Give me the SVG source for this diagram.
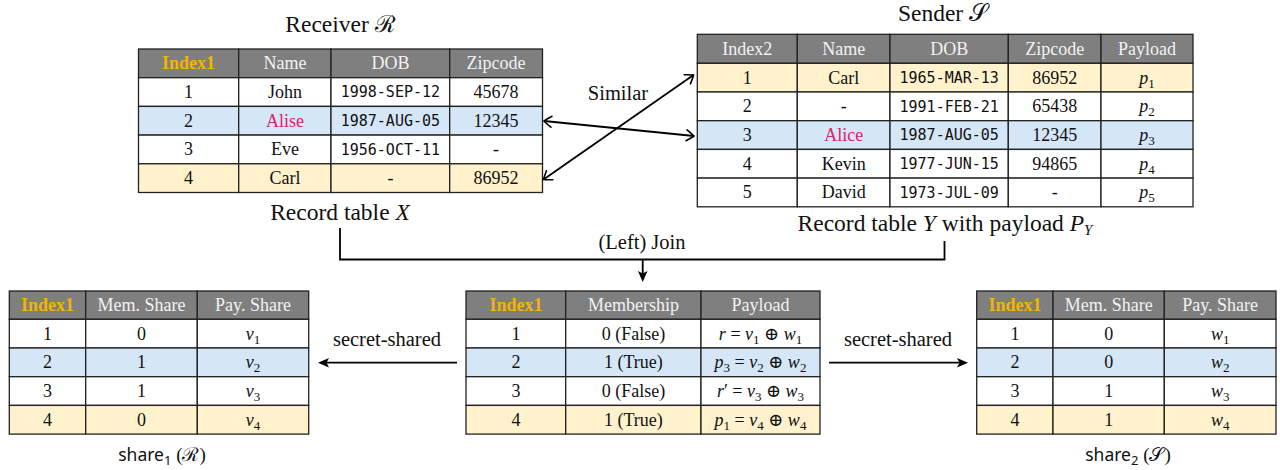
<svg xmlns="http://www.w3.org/2000/svg" width="1280" height="470" viewBox="0 0 1280 470">
  <style>
    text { font-family: "Liberation Serif", "DejaVu Serif", serif; fill: #111; }
    .t { font-size: 18px; text-anchor: middle; }
    .mono { font-family: "DejaVu Sans Mono", "Liberation Mono", monospace; font-size: 15px; text-anchor: middle; }
    .hd { font-size: 18px; text-anchor: middle; fill: #f2f2f2; }
    .key { font-weight: bold; fill: #f4b400; }
    .pink { fill: #d6266a; }
    .cap { font-size: 23.5px; text-anchor: middle; }
    .lbl { font-size: 20.5px; text-anchor: middle; }
    .sf { font-family: "Noto Sans", "Open Sans", sans-serif; }
    .it { font-style: italic; }
    .sub { font-size: 13px; }
    .c { stroke: #222; stroke-width: 1.3; }
    .h { fill: #7f7f7f; }
    .w { fill: #ffffff; }
    .b { fill: #d5e6f7; }
    .y { fill: #fff2cc; }
    .ln { fill: none; stroke: #000; stroke-width: 1.8; }
  </style>
  <defs>
    <marker id="barb" viewBox="-12 -8 14 16" refX="0" refY="0" markerWidth="14" markerHeight="16" markerUnits="userSpaceOnUse" orient="auto-start-reverse">
      <path d="M-7.5,-5.5 Q-2,-1.8 0,0 Q-2,1.8 -7.5,5.5" fill="none" stroke="#000" stroke-width="1.6" stroke-linecap="round"/>
    </marker>
    <marker id="tri" viewBox="-14 -6 15 12" refX="-5" refY="0" markerWidth="15" markerHeight="12" markerUnits="userSpaceOnUse" orient="auto">
      <path d="M0,0 L-11,-4.8 L-8.5,0 L-11,4.8 Z" fill="#000"/>
    </marker>
  </defs>

  <!-- Receiver record table X -->
  <g id="receiver">
    <text class="cap" x="340" y="32">Receiver ℛ</text>
    <rect class="c h" x="138.5" y="49" width="100.2" height="28.7"/>
    <rect class="c h" x="238.7" y="49" width="92.3" height="28.7"/>
    <rect class="c h" x="331" y="49" width="118.7" height="28.7"/>
    <rect class="c h" x="449.7" y="49" width="92.8" height="28.7"/>
    <text class="hd key" x="188.6" y="69.3">Index1</text>
    <text class="hd" x="284.9" y="69.3">Name</text>
    <text class="hd" x="390.4" y="69.3">DOB</text>
    <text class="hd" x="496.1" y="69.3">Zipcode</text>

    <rect class="c w" x="138.5" y="77.7" width="100.2" height="28.7"/>
    <rect class="c w" x="238.7" y="77.7" width="92.3" height="28.7"/>
    <rect class="c w" x="331" y="77.7" width="118.7" height="28.7"/>
    <rect class="c w" x="449.7" y="77.7" width="92.8" height="28.7"/>
    <text class="t" x="188.6" y="98">1</text>
    <text class="t" x="284.9" y="98">John</text>
    <text class="mono" x="390.4" y="97.3">1998-SEP-12</text>
    <text class="t" x="496.1" y="98">45678</text>

    <rect class="c b" x="138.5" y="106.4" width="100.2" height="28.7"/>
    <rect class="c b" x="238.7" y="106.4" width="92.3" height="28.7"/>
    <rect class="c b" x="331" y="106.4" width="118.7" height="28.7"/>
    <rect class="c b" x="449.7" y="106.4" width="92.8" height="28.7"/>
    <text class="t" x="188.6" y="126.7">2</text>
    <text class="t pink" x="284.9" y="126.7">Alise</text>
    <text class="mono" x="390.4" y="126">1987-AUG-05</text>
    <text class="t" x="496.1" y="126.7">12345</text>

    <rect class="c w" x="138.5" y="135.1" width="100.2" height="28.7"/>
    <rect class="c w" x="238.7" y="135.1" width="92.3" height="28.7"/>
    <rect class="c w" x="331" y="135.1" width="118.7" height="28.7"/>
    <rect class="c w" x="449.7" y="135.1" width="92.8" height="28.7"/>
    <text class="t" x="188.6" y="155.4">3</text>
    <text class="t" x="284.9" y="155.4">Eve</text>
    <text class="mono" x="390.4" y="154.7">1956-OCT-11</text>
    <text class="t" x="496.1" y="155.4">-</text>

    <rect class="c y" x="138.5" y="163.8" width="100.2" height="28.7"/>
    <rect class="c y" x="238.7" y="163.8" width="92.3" height="28.7"/>
    <rect class="c y" x="331" y="163.8" width="118.7" height="28.7"/>
    <rect class="c y" x="449.7" y="163.8" width="92.8" height="28.7"/>
    <text class="t" x="188.6" y="184.1">4</text>
    <text class="t" x="284.9" y="184.1">Carl</text>
    <text class="t" x="390.4" y="184.1">-</text>
    <text class="t" x="496.1" y="184.1">86952</text>

    <text class="cap" x="340" y="220">Record table <tspan class="it">X</tspan></text>
  </g>

  <!-- Sender record table Y with payload -->
  <g id="sender">
    <text class="cap" x="943" y="21">Sender 𝒮</text>
    <rect class="c h" x="697.3" y="34.3" width="100" height="29"/>
    <rect class="c h" x="797.3" y="34.3" width="92.7" height="29"/>
    <rect class="c h" x="890" y="34.3" width="118.3" height="29"/>
    <rect class="c h" x="1008.3" y="34.3" width="92.7" height="29"/>
    <rect class="c h" x="1101" y="34.3" width="92" height="29"/>
    <text class="hd" x="747.3" y="54.8">Index2</text>
    <text class="hd" x="843.7" y="54.8">Name</text>
    <text class="hd" x="949.2" y="54.8">DOB</text>
    <text class="hd" x="1054.7" y="54.8">Zipcode</text>
    <text class="hd" x="1147" y="54.8">Payload</text>

    <rect class="c y" x="697.3" y="63.3" width="100" height="28.7"/>
    <rect class="c y" x="797.3" y="63.3" width="92.7" height="28.7"/>
    <rect class="c y" x="890" y="63.3" width="118.3" height="28.7"/>
    <rect class="c y" x="1008.3" y="63.3" width="92.7" height="28.7"/>
    <rect class="c y" x="1101" y="63.3" width="92" height="28.7"/>
    <text class="t" x="747.3" y="83.6">1</text>
    <text class="t" x="843.7" y="83.6">Carl</text>
    <text class="mono" x="949.2" y="82.9">1965-MAR-13</text>
    <text class="t" x="1054.7" y="83.6">86952</text>
    <text class="t" x="1147" y="83.6"><tspan class="it">p</tspan><tspan class="sub" dy="4">1</tspan></text>

    <rect class="c w" x="697.3" y="92" width="100" height="28.7"/>
    <rect class="c w" x="797.3" y="92" width="92.7" height="28.7"/>
    <rect class="c w" x="890" y="92" width="118.3" height="28.7"/>
    <rect class="c w" x="1008.3" y="92" width="92.7" height="28.7"/>
    <rect class="c w" x="1101" y="92" width="92" height="28.7"/>
    <text class="t" x="747.3" y="112.3">2</text>
    <text class="t" x="843.7" y="112.3">-</text>
    <text class="mono" x="949.2" y="111.6">1991-FEB-21</text>
    <text class="t" x="1054.7" y="112.3">65438</text>
    <text class="t" x="1147" y="112.3"><tspan class="it">p</tspan><tspan class="sub" dy="4">2</tspan></text>

    <rect class="c b" x="697.3" y="120.7" width="100" height="28.7"/>
    <rect class="c b" x="797.3" y="120.7" width="92.7" height="28.7"/>
    <rect class="c b" x="890" y="120.7" width="118.3" height="28.7"/>
    <rect class="c b" x="1008.3" y="120.7" width="92.7" height="28.7"/>
    <rect class="c b" x="1101" y="120.7" width="92" height="28.7"/>
    <text class="t" x="747.3" y="141">3</text>
    <text class="t pink" x="843.7" y="141">Alice</text>
    <text class="mono" x="949.2" y="140.3">1987-AUG-05</text>
    <text class="t" x="1054.7" y="141">12345</text>
    <text class="t" x="1147" y="141"><tspan class="it">p</tspan><tspan class="sub" dy="4">3</tspan></text>

    <rect class="c w" x="697.3" y="149.4" width="100" height="28.7"/>
    <rect class="c w" x="797.3" y="149.4" width="92.7" height="28.7"/>
    <rect class="c w" x="890" y="149.4" width="118.3" height="28.7"/>
    <rect class="c w" x="1008.3" y="149.4" width="92.7" height="28.7"/>
    <rect class="c w" x="1101" y="149.4" width="92" height="28.7"/>
    <text class="t" x="747.3" y="169.7">4</text>
    <text class="t" x="843.7" y="169.7">Kevin</text>
    <text class="mono" x="949.2" y="169">1977-JUN-15</text>
    <text class="t" x="1054.7" y="169.7">94865</text>
    <text class="t" x="1147" y="169.7"><tspan class="it">p</tspan><tspan class="sub" dy="4">4</tspan></text>

    <rect class="c w" x="697.3" y="178.1" width="100" height="28.7"/>
    <rect class="c w" x="797.3" y="178.1" width="92.7" height="28.7"/>
    <rect class="c w" x="890" y="178.1" width="118.3" height="28.7"/>
    <rect class="c w" x="1008.3" y="178.1" width="92.7" height="28.7"/>
    <rect class="c w" x="1101" y="178.1" width="92" height="28.7"/>
    <text class="t" x="747.3" y="198.4">5</text>
    <text class="t" x="843.7" y="198.4">David</text>
    <text class="mono" x="949.2" y="197.7">1973-JUL-09</text>
    <text class="t" x="1054.7" y="198.4">-</text>
    <text class="t" x="1147" y="198.4"><tspan class="it">p</tspan><tspan class="sub" dy="4">5</tspan></text>

    <text class="cap" x="945" y="231">Record table <tspan class="it">Y</tspan> with payload <tspan class="it">P</tspan><tspan class="it" style="font-size:15px" dy="4">Y</tspan></text>
  </g>

  <!-- Share held by the receiver -->
  <g id="share1">
    <rect class="c h" x="9.3" y="291" width="76.4" height="28.3"/>
    <rect class="c h" x="85.7" y="291" width="111.6" height="28.3"/>
    <rect class="c h" x="197.3" y="291" width="111.4" height="28.3"/>
    <text class="hd key" x="47.5" y="311.3">Index1</text>
    <text class="hd" x="141.5" y="311.3">Mem. Share</text>
    <text class="hd" x="253" y="311.3">Pay. Share</text>

    <rect class="c w" x="9.3" y="319.3" width="76.4" height="28.7"/>
    <rect class="c w" x="85.7" y="319.3" width="111.6" height="28.7"/>
    <rect class="c w" x="197.3" y="319.3" width="111.4" height="28.7"/>
    <text class="t" x="47.5" y="339.6">1</text>
    <text class="t" x="141.5" y="339.6">0</text>
    <text class="t" x="253" y="339.6"><tspan class="it">v</tspan><tspan class="sub" dy="4">1</tspan></text>

    <rect class="c b" x="9.3" y="348" width="76.4" height="28.7"/>
    <rect class="c b" x="85.7" y="348" width="111.6" height="28.7"/>
    <rect class="c b" x="197.3" y="348" width="111.4" height="28.7"/>
    <text class="t" x="47.5" y="368.3">2</text>
    <text class="t" x="141.5" y="368.3">1</text>
    <text class="t" x="253" y="368.3"><tspan class="it">v</tspan><tspan class="sub" dy="4">2</tspan></text>

    <rect class="c w" x="9.3" y="376.7" width="76.4" height="28.7"/>
    <rect class="c w" x="85.7" y="376.7" width="111.6" height="28.7"/>
    <rect class="c w" x="197.3" y="376.7" width="111.4" height="28.7"/>
    <text class="t" x="47.5" y="397">3</text>
    <text class="t" x="141.5" y="397">1</text>
    <text class="t" x="253" y="397"><tspan class="it">v</tspan><tspan class="sub" dy="4">3</tspan></text>

    <rect class="c y" x="9.3" y="405.4" width="76.4" height="28.7"/>
    <rect class="c y" x="85.7" y="405.4" width="111.6" height="28.7"/>
    <rect class="c y" x="197.3" y="405.4" width="111.4" height="28.7"/>
    <text class="t" x="47.5" y="425.7">4</text>
    <text class="t" x="141.5" y="425.7">0</text>
    <text class="t" x="253" y="425.7"><tspan class="it">v</tspan><tspan class="sub" dy="4">4</tspan></text>

    <text class="t" x="162" y="461" style="font-size:19px"><tspan class="sf" style="font-size:17.5px">share</tspan><tspan class="sf sub" dy="4">1</tspan><tspan dy="-4"> (ℛ)</tspan></text>
  </g>

  <!-- Joined membership / payload table -->
  <g id="joined">
    <rect class="c h" x="466" y="291" width="99.7" height="28.3"/>
    <rect class="c h" x="565.7" y="291" width="135.3" height="28.3"/>
    <rect class="c h" x="701" y="291" width="119" height="28.3"/>
    <text class="hd key" x="515.9" y="311.3">Index1</text>
    <text class="hd" x="633.4" y="311.3">Membership</text>
    <text class="hd" x="760.5" y="311.3">Payload</text>

    <rect class="c w" x="466" y="319.3" width="99.7" height="28.7"/>
    <rect class="c w" x="565.7" y="319.3" width="135.3" height="28.7"/>
    <rect class="c w" x="701" y="319.3" width="119" height="28.7"/>
    <text class="t" x="515.9" y="339.6">1</text>
    <text class="t" x="633.4" y="339.6">0 (False)</text>
    <text class="t" x="760.5" y="339.6"><tspan class="it">r</tspan> = <tspan class="it">v</tspan><tspan class="sub" dy="4">1</tspan><tspan dy="-4"> ⊕ </tspan><tspan class="it">w</tspan><tspan class="sub" dy="4">1</tspan></text>

    <rect class="c b" x="466" y="348" width="99.7" height="28.7"/>
    <rect class="c b" x="565.7" y="348" width="135.3" height="28.7"/>
    <rect class="c b" x="701" y="348" width="119" height="28.7"/>
    <text class="t" x="515.9" y="368.3">2</text>
    <text class="t" x="633.4" y="368.3">1 (True)</text>
    <text class="t" x="760.5" y="368.3"><tspan class="it">p</tspan><tspan class="sub" dy="4">3</tspan><tspan dy="-4"> = </tspan><tspan class="it">v</tspan><tspan class="sub" dy="4">2</tspan><tspan dy="-4"> ⊕ </tspan><tspan class="it">w</tspan><tspan class="sub" dy="4">2</tspan></text>

    <rect class="c w" x="466" y="376.7" width="99.7" height="28.7"/>
    <rect class="c w" x="565.7" y="376.7" width="135.3" height="28.7"/>
    <rect class="c w" x="701" y="376.7" width="119" height="28.7"/>
    <text class="t" x="515.9" y="397">3</text>
    <text class="t" x="633.4" y="397">0 (False)</text>
    <text class="t" x="760.5" y="397"><tspan class="it">r</tspan>′ = <tspan class="it">v</tspan><tspan class="sub" dy="4">3</tspan><tspan dy="-4"> ⊕ </tspan><tspan class="it">w</tspan><tspan class="sub" dy="4">3</tspan></text>

    <rect class="c y" x="466" y="405.4" width="99.7" height="28.7"/>
    <rect class="c y" x="565.7" y="405.4" width="135.3" height="28.7"/>
    <rect class="c y" x="701" y="405.4" width="119" height="28.7"/>
    <text class="t" x="515.9" y="425.7">4</text>
    <text class="t" x="633.4" y="425.7">1 (True)</text>
    <text class="t" x="760.5" y="425.7"><tspan class="it">p</tspan><tspan class="sub" dy="4">1</tspan><tspan dy="-4"> = </tspan><tspan class="it">v</tspan><tspan class="sub" dy="4">4</tspan><tspan dy="-4"> ⊕ </tspan><tspan class="it">w</tspan><tspan class="sub" dy="4">4</tspan></text>
  </g>

  <!-- Share held by the sender -->
  <g id="share2">
    <rect class="c h" x="976.7" y="291" width="76.3" height="28.3"/>
    <rect class="c h" x="1053" y="291" width="111.3" height="28.3"/>
    <rect class="c h" x="1164.3" y="291" width="111.7" height="28.3"/>
    <text class="hd key" x="1014.9" y="311.3">Index1</text>
    <text class="hd" x="1108.7" y="311.3">Mem. Share</text>
    <text class="hd" x="1220.2" y="311.3">Pay. Share</text>

    <rect class="c w" x="976.7" y="319.3" width="76.3" height="28.7"/>
    <rect class="c w" x="1053" y="319.3" width="111.3" height="28.7"/>
    <rect class="c w" x="1164.3" y="319.3" width="111.7" height="28.7"/>
    <text class="t" x="1014.9" y="339.6">1</text>
    <text class="t" x="1108.7" y="339.6">0</text>
    <text class="t" x="1220.2" y="339.6"><tspan class="it">w</tspan><tspan class="sub" dy="4">1</tspan></text>

    <rect class="c b" x="976.7" y="348" width="76.3" height="28.7"/>
    <rect class="c b" x="1053" y="348" width="111.3" height="28.7"/>
    <rect class="c b" x="1164.3" y="348" width="111.7" height="28.7"/>
    <text class="t" x="1014.9" y="368.3">2</text>
    <text class="t" x="1108.7" y="368.3">0</text>
    <text class="t" x="1220.2" y="368.3"><tspan class="it">w</tspan><tspan class="sub" dy="4">2</tspan></text>

    <rect class="c w" x="976.7" y="376.7" width="76.3" height="28.7"/>
    <rect class="c w" x="1053" y="376.7" width="111.3" height="28.7"/>
    <rect class="c w" x="1164.3" y="376.7" width="111.7" height="28.7"/>
    <text class="t" x="1014.9" y="397">3</text>
    <text class="t" x="1108.7" y="397">1</text>
    <text class="t" x="1220.2" y="397"><tspan class="it">w</tspan><tspan class="sub" dy="4">3</tspan></text>

    <rect class="c y" x="976.7" y="405.4" width="76.3" height="28.7"/>
    <rect class="c y" x="1053" y="405.4" width="111.3" height="28.7"/>
    <rect class="c y" x="1164.3" y="405.4" width="111.7" height="28.7"/>
    <text class="t" x="1014.9" y="425.7">4</text>
    <text class="t" x="1108.7" y="425.7">1</text>
    <text class="t" x="1220.2" y="425.7"><tspan class="it">w</tspan><tspan class="sub" dy="4">4</tspan></text>

    <text class="t" x="1128" y="461" style="font-size:19px"><tspan class="sf" style="font-size:17.5px">share</tspan><tspan class="sf sub" dy="4">2</tspan><tspan dy="-4"> (𝒮)</tspan></text>
  </g>

  <!-- Connectors -->
  <g id="connectors">
    <line class="ln" x1="544" y1="121" x2="694" y2="136" marker-start="url(#barb)" marker-end="url(#barb)"/>
    <line class="ln" x1="543.5" y1="179.5" x2="693.5" y2="75" marker-start="url(#barb)" marker-end="url(#barb)"/>
    <text class="lbl" x="618" y="100">Similar</text>

    <path class="ln" d="M340,228 V259.5 H944.5 V241"/>
    <line class="ln" x1="642.7" y1="259.5" x2="642.7" y2="277" marker-end="url(#tri)"/>
    <text class="lbl" x="642" y="249">(Left) Join</text>

    <line class="ln" x1="457" y1="362.7" x2="323" y2="362.7" marker-end="url(#tri)"/>
    <text class="lbl" x="387" y="346">secret-shared</text>

    <line class="ln" x1="829" y1="362.7" x2="963" y2="362.7" marker-end="url(#tri)"/>
    <text class="lbl" x="898" y="346">secret-shared</text>
  </g>
</svg>
